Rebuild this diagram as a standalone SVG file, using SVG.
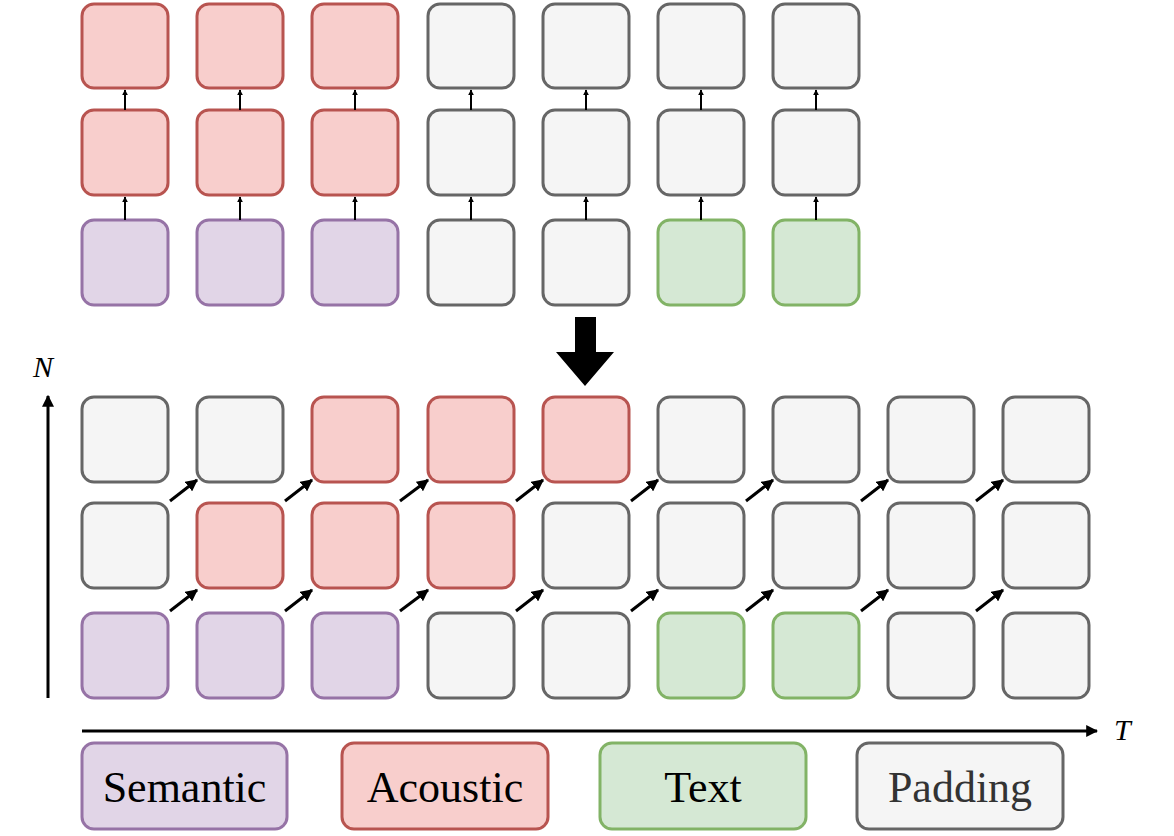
<svg xmlns="http://www.w3.org/2000/svg" width="1174" height="836" viewBox="0 0 1174 836">
<style>
rect{stroke-width:3}
.s{fill:#e1d5e7;stroke:#9673a6}
.a{fill:#f8cecc;stroke:#b85450}
.t{fill:#d5e8d4;stroke:#82b366}
.p{fill:#f5f5f5;stroke:#666666}
.c line{stroke:#000;stroke-width:3}
.lbl{font-family:"Liberation Serif",serif;font-size:44px;text-anchor:middle}
.ax{font-family:"Liberation Serif",serif;font-size:30px;font-style:italic}
</style>
<defs>
<marker id="h" viewBox="0 0 10 10" refX="9" refY="5" markerWidth="4" markerHeight="4" orient="auto"><path d="M0,0L10,5L0,10z"/></marker>
<marker id="hs" viewBox="0 0 10 10" refX="9" refY="5" markerWidth="3" markerHeight="3.5" orient="auto"><path d="M0,0L10,5L0,10z"/></marker>
</defs>
<g id="top">
<rect class="a" x="82" y="4" width="86" height="84" rx="12"/>
<rect class="a" x="197" y="4" width="86" height="84" rx="12"/>
<rect class="a" x="312" y="4" width="86" height="84" rx="12"/>
<rect class="p" x="428" y="4" width="86" height="84" rx="12"/>
<rect class="p" x="543" y="4" width="86" height="84" rx="12"/>
<rect class="p" x="658" y="4" width="86" height="84" rx="12"/>
<rect class="p" x="773" y="4" width="86" height="84" rx="12"/>
<rect class="a" x="82" y="110" width="86" height="85" rx="12"/>
<rect class="a" x="197" y="110" width="86" height="85" rx="12"/>
<rect class="a" x="312" y="110" width="86" height="85" rx="12"/>
<rect class="p" x="428" y="110" width="86" height="85" rx="12"/>
<rect class="p" x="543" y="110" width="86" height="85" rx="12"/>
<rect class="p" x="658" y="110" width="86" height="85" rx="12"/>
<rect class="p" x="773" y="110" width="86" height="85" rx="12"/>
<rect class="s" x="82" y="220" width="86" height="85" rx="12"/>
<rect class="s" x="197" y="220" width="86" height="85" rx="12"/>
<rect class="s" x="312" y="220" width="86" height="85" rx="12"/>
<rect class="p" x="428" y="220" width="86" height="85" rx="12"/>
<rect class="p" x="543" y="220" width="86" height="85" rx="12"/>
<rect class="t" x="658" y="220" width="86" height="85" rx="12"/>
<rect class="t" x="773" y="220" width="86" height="85" rx="12"/>
</g>
<g id="bottom">
<rect class="p" x="82" y="397" width="86" height="85" rx="12"/>
<rect class="p" x="197" y="397" width="86" height="85" rx="12"/>
<rect class="a" x="312" y="397" width="86" height="85" rx="12"/>
<rect class="a" x="428" y="397" width="86" height="85" rx="12"/>
<rect class="a" x="543" y="397" width="86" height="85" rx="12"/>
<rect class="p" x="658" y="397" width="86" height="85" rx="12"/>
<rect class="p" x="773" y="397" width="86" height="85" rx="12"/>
<rect class="p" x="888" y="397" width="86" height="85" rx="12"/>
<rect class="p" x="1003" y="397" width="86" height="85" rx="12"/>
<rect class="p" x="82" y="503" width="86" height="85" rx="12"/>
<rect class="a" x="197" y="503" width="86" height="85" rx="12"/>
<rect class="a" x="312" y="503" width="86" height="85" rx="12"/>
<rect class="a" x="428" y="503" width="86" height="85" rx="12"/>
<rect class="p" x="543" y="503" width="86" height="85" rx="12"/>
<rect class="p" x="658" y="503" width="86" height="85" rx="12"/>
<rect class="p" x="773" y="503" width="86" height="85" rx="12"/>
<rect class="p" x="888" y="503" width="86" height="85" rx="12"/>
<rect class="p" x="1003" y="503" width="86" height="85" rx="12"/>
<rect class="s" x="82" y="613" width="86" height="85" rx="12"/>
<rect class="s" x="197" y="613" width="86" height="85" rx="12"/>
<rect class="s" x="312" y="613" width="86" height="85" rx="12"/>
<rect class="p" x="428" y="613" width="86" height="85" rx="12"/>
<rect class="p" x="543" y="613" width="86" height="85" rx="12"/>
<rect class="t" x="658" y="613" width="86" height="85" rx="12"/>
<rect class="t" x="773" y="613" width="86" height="85" rx="12"/>
<rect class="p" x="888" y="613" width="86" height="85" rx="12"/>
<rect class="p" x="1003" y="613" width="86" height="85" rx="12"/>
</g>
<g id="legend">
<rect class="s" x="82" y="743" width="205" height="86" rx="12"/>
<text class="lbl" x="184.5" y="802">Semantic</text>
<rect class="a" x="342" y="743" width="206" height="86" rx="12"/>
<text class="lbl" x="445" y="802">Acoustic</text>
<rect class="t" x="600" y="743" width="206" height="86" rx="12"/>
<text class="lbl" x="703" y="802">Text</text>
<rect class="p" x="857" y="743" width="206" height="86" rx="12"/>
<text class="lbl" x="960" y="802" fill="#333333">Padding</text>
</g>
<g class="c" id="connectors">
<line x1="125" y1="110" x2="125" y2="90" marker-end="url(#hs)" style="stroke-width:2"/>
<line x1="240" y1="110" x2="240" y2="90" marker-end="url(#hs)" style="stroke-width:2"/>
<line x1="355" y1="110" x2="355" y2="90" marker-end="url(#hs)" style="stroke-width:2"/>
<line x1="471" y1="110" x2="471" y2="90" marker-end="url(#hs)" style="stroke-width:2"/>
<line x1="586" y1="110" x2="586" y2="90" marker-end="url(#hs)" style="stroke-width:2"/>
<line x1="701" y1="110" x2="701" y2="90" marker-end="url(#hs)" style="stroke-width:2"/>
<line x1="816" y1="110" x2="816" y2="90" marker-end="url(#hs)" style="stroke-width:2"/>
<line x1="125" y1="220" x2="125" y2="197" marker-end="url(#hs)" style="stroke-width:2"/>
<line x1="240" y1="220" x2="240" y2="197" marker-end="url(#hs)" style="stroke-width:2"/>
<line x1="355" y1="220" x2="355" y2="197" marker-end="url(#hs)" style="stroke-width:2"/>
<line x1="471" y1="220" x2="471" y2="197" marker-end="url(#hs)" style="stroke-width:2"/>
<line x1="586" y1="220" x2="586" y2="197" marker-end="url(#hs)" style="stroke-width:2"/>
<line x1="701" y1="220" x2="701" y2="197" marker-end="url(#hs)" style="stroke-width:2"/>
<line x1="816" y1="220" x2="816" y2="197" marker-end="url(#hs)" style="stroke-width:2"/>
<g id="diag">
<line x1="170" y1="501" x2="197" y2="480" marker-end="url(#h)"/>
<line x1="285" y1="501" x2="312" y2="480" marker-end="url(#h)"/>
<line x1="400" y1="501" x2="428" y2="480" marker-end="url(#h)"/>
<line x1="516" y1="501" x2="543" y2="480" marker-end="url(#h)"/>
<line x1="631" y1="501" x2="658" y2="480" marker-end="url(#h)"/>
<line x1="746" y1="501" x2="773" y2="480" marker-end="url(#h)"/>
<line x1="861" y1="501" x2="888" y2="480" marker-end="url(#h)"/>
<line x1="976" y1="501" x2="1003" y2="480" marker-end="url(#h)"/>
<line x1="170" y1="611" x2="197" y2="590" marker-end="url(#h)"/>
<line x1="285" y1="611" x2="312" y2="590" marker-end="url(#h)"/>
<line x1="400" y1="611" x2="428" y2="590" marker-end="url(#h)"/>
<line x1="516" y1="611" x2="543" y2="590" marker-end="url(#h)"/>
<line x1="631" y1="611" x2="658" y2="590" marker-end="url(#h)"/>
<line x1="746" y1="611" x2="773" y2="590" marker-end="url(#h)"/>
<line x1="861" y1="611" x2="888" y2="590" marker-end="url(#h)"/>
<line x1="976" y1="611" x2="1003" y2="590" marker-end="url(#h)"/>
</g>
<path d="M575,317H596V352H614L585,386L556,352H575Z" fill="#000"/>
<line x1="48" y1="698" x2="48" y2="396" marker-end="url(#h)"/>
<line x1="82" y1="731" x2="1097" y2="731" marker-end="url(#h)"/>
</g>
<text class="ax" x="33" y="377">N</text>
<text class="ax" x="1114" y="740">T</text>
</svg>
